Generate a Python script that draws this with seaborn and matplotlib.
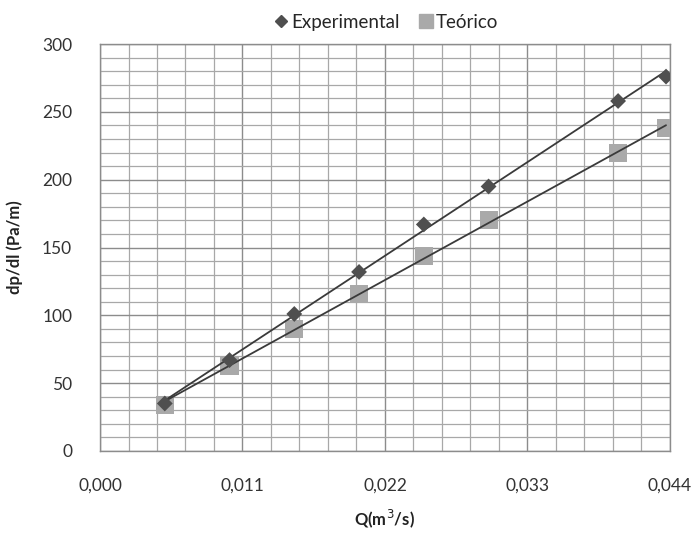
import matplotlib
matplotlib.use("Agg")
import matplotlib.pyplot as plt
import seaborn as sns
import numpy as np
import pandas as pd
from matplotlib.ticker import MultipleLocator, FuncFormatter
from matplotlib.lines import Line2D

q_exp = [0.0050, 0.0100, 0.0150, 0.0200, 0.0250, 0.0300, 0.0400, 0.0437]
dp_exp = [35, 67, 101, 132, 167, 195, 258, 276]
q_teo = [0.0050, 0.0100, 0.0150, 0.0200, 0.0250, 0.0300, 0.0400, 0.0437]
dp_teo = [34, 63, 90, 116, 144, 170, 220, 238]
xticks = [0.000, 0.011, 0.022, 0.033, 0.044]
yticks = [0, 50, 100, 150, 200, 250, 300]

sns.set_style("white")
plt.rcParams['font.family'] = ['Lato', 'DejaVu Sans']

df_exp = pd.DataFrame({"Q": q_exp, "dp": dp_exp})
df_teo = pd.DataFrame({"Q": q_teo, "dp": dp_teo})

fig = plt.figure(figsize=(6.95, 5.39), dpi=100)
ax = fig.add_axes([0.1439, 0.1633, 0.820, 0.755])

grid_c = "#a8a8a8"
ax.set_xlim(0, 0.044)
ax.set_ylim(0, 300)
ax.xaxis.set_major_locator(MultipleLocator(0.011))
ax.xaxis.set_minor_locator(MultipleLocator(0.0022))
ax.yaxis.set_major_locator(MultipleLocator(50))
ax.yaxis.set_minor_locator(MultipleLocator(10))
ax.grid(which="major", color="#8c8c8c", linewidth=1.0)
ax.grid(which="minor", color=grid_c, linewidth=0.9)
ax.set_axisbelow(True)

sns.regplot(data=df_teo, x="Q", y="dp", ax=ax, ci=None, truncate=True, scatter=False,
            line_kws=dict(color="#3a3a3a", linewidth=1.3, zorder=4))
sns.regplot(data=df_exp, x="Q", y="dp", ax=ax, ci=None, truncate=True, scatter=False,
            line_kws=dict(color="#3a3a3a", linewidth=1.3, zorder=4))
sns.scatterplot(data=df_teo, x="Q", y="dp", ax=ax, marker="s", s=170, color="#a9a9a9",
                edgecolor="none", zorder=3)
sns.scatterplot(data=df_exp, x="Q", y="dp", ax=ax, marker="D", s=65, color="#4f4f4f",
                edgecolor="none", zorder=5)

ax.set_xticks(xticks)
ax.set_yticks(yticks)
ax.xaxis.set_major_formatter(FuncFormatter(lambda v, p: f"{v:.3f}".replace(".", ",")))
ax.yaxis.set_major_formatter(FuncFormatter(lambda v, p: f"{v:.0f}"))
ax.tick_params(axis="both", which="major", labelsize=12.5, colors="#333333", length=6,
               width=1, direction="out")
ax.tick_params(axis="both", which="minor", length=0)
ax.tick_params(axis="x", pad=13)
ax.tick_params(axis="y", pad=14)
ax.tick_params(axis="x", which="major", color="#8c8c8c")
ax.tick_params(axis="y", which="major", color="#8c8c8c")
for s in ax.spines.values():
    s.set_color("#8c8c8c")
    s.set_linewidth(1.0)

ax.set_xlabel("Q(m$^3$/s)", fontsize=12, fontweight="bold", color="#222222", labelpad=10)
ax.set_ylabel("dp/dl (Pa/m)", fontsize=12, fontweight="bold", color="#222222", labelpad=14)

handles = [Line2D([], [], marker="D", color="#4f4f4f", linestyle="none", markersize=6.5),
           Line2D([], [], marker="s", color="#a9a9a9", linestyle="none", markersize=10)]
ax.legend(handles, ["Experimental", "Teórico"], loc="lower center",
          bbox_to_anchor=(0.5, 1.0), ncol=2, frameon=False, fontsize=13.5,
          handletextpad=0.05, columnspacing=0.9, handlelength=1.0, borderaxespad=0.3)

fig.savefig("out.png", dpi=100)
